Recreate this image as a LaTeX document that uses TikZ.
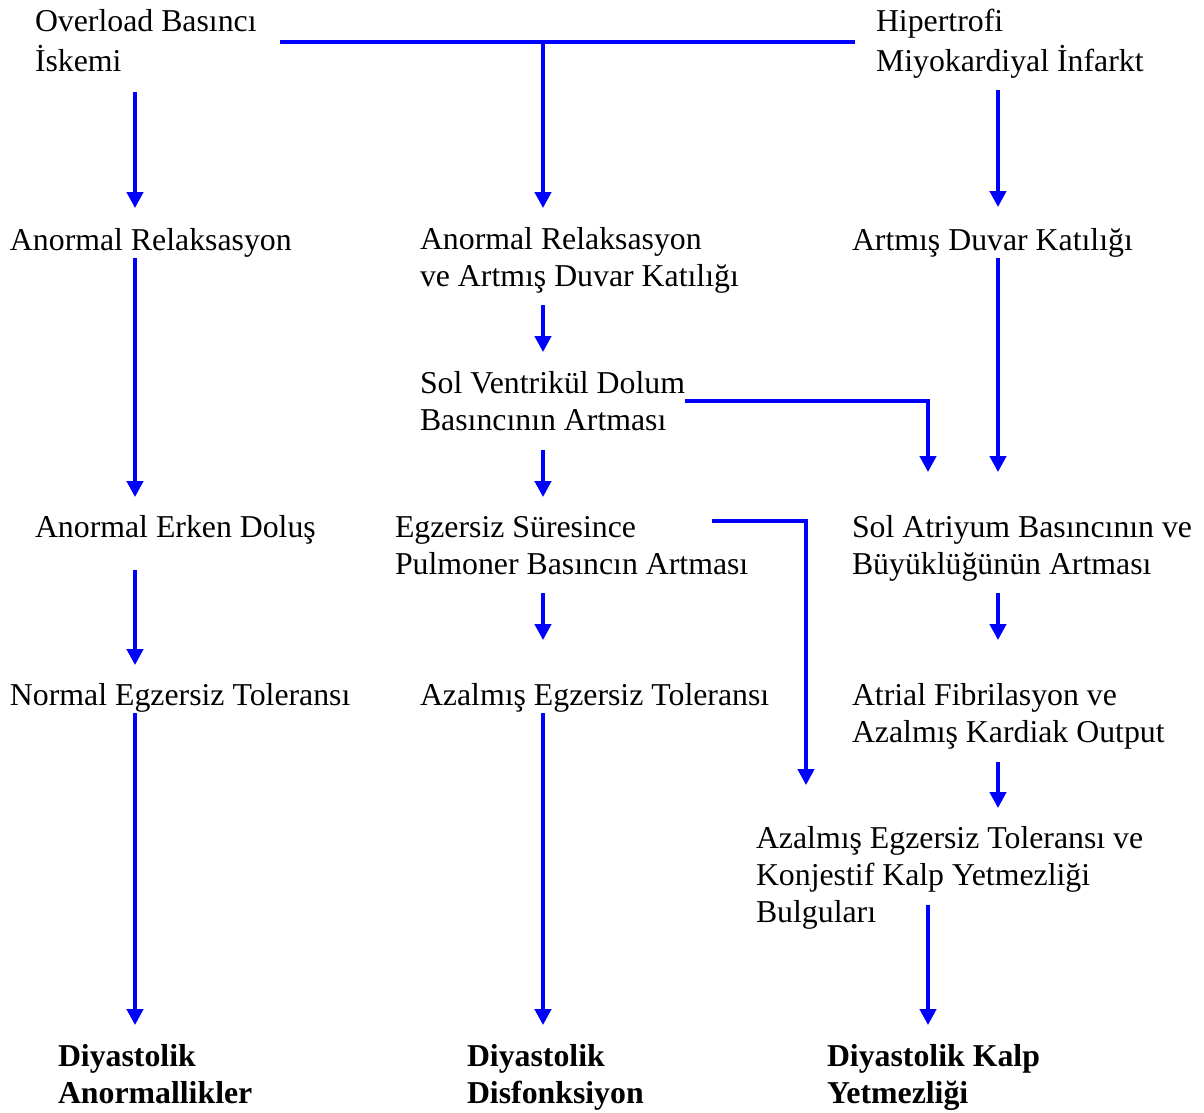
\documentclass[tikz,border=0pt]{standalone}
\usepackage{fontspec}
\setmainfont{Liberation Serif}
\usetikzlibrary{arrows.meta,calc}
\newcommand\sts{\rule[-5.55pt]{0pt}{18.5pt}}
\begin{document}
\begin{tikzpicture}[x=0.5pt,y=-0.5pt,
  txt/.style={anchor=north west,inner sep=0pt,outer sep=0pt,align=left,
    font=\fontsize{15.9}{18.5}\selectfont},
  btxt/.style={txt,font=\fontsize{15.9}{18.5}\selectfont\bfseries},
  ln/.style={draw=blue,line width=2pt},
  arr/.style={ln,-{Triangle[width=8pt,length=8pt]}}]
\useasboundingbox (0,0) rectangle (1204,1113);
% columns
\coordinate (k1) at (135,0);
\coordinate (k2) at (543,0);
\coordinate (k3) at (998,0);
\coordinate (k5) at (928,0);
\coordinate (k6) at (806,0);
% nodes
\node[txt] (ovl) at (35,6.1) {\sts Overload Basıncı\\İskemi\sts};
\node[txt] (hyp) at (876,6.1) {\sts Hipertrofi\\Miyokardiyal İnfarkt\sts};
\node[txt] (ar1) at (10,224.1) {\sts Anormal Relaksasyon};
\node[txt] (ar2) at (420,223.1) {\sts Anormal Relaksasyon\\ve Artmış Duvar Katılığı\sts};
\node[txt] (ar3) at (852,224.1) {\sts Artmış Duvar Katılığı};
\node[txt] (svd) at (420,367.1) {\sts Sol Ventrikül Dolum\\Basıncının Artması\sts};
\node[txt] (aed) at (35,511.1) {\sts Anormal Erken Doluş};
\node[txt] (egz) at (395,511.1) {\sts Egzersiz Süresince\\Pulmoner Basıncın Artması\sts};
\node[txt] (sat) at (852,511.1) {\sts Sol Atriyum Basıncının ve\\Büyüklüğünün Artması\sts};
\node[txt] (net) at (10,679.1) {\sts Normal Egzersiz Toleransı};
\node[txt] (aet) at (420,679.1) {\sts Azalmış Egzersiz Toleransı};
\node[txt] (afb) at (852,679.1) {\sts Atrial Fibrilasyon ve\\Azalmış Kardiak Output\sts};
\node[txt] (akk) at (756,822.1) {\sts Azalmış Egzersiz Toleransı ve\\Konjestif Kalp Yetmezliği\\Bulguları\sts};
\node[btxt] (d1) at (58,1040.1) {\sts Diyastolik\\Anormallikler\sts};
\node[btxt] (d2) at (467,1040.1) {\sts Diyastolik\\Disfonksiyon\sts};
\node[btxt] (d3) at (827,1040.1) {\sts Diyastolik Kalp\\Yetmezliği\sts};
% connectors
\draw[arr] ($(ovl.south -| k1)+(0,10)$) -- ($(ar1.north -| k1)+(0,-16)$);
\draw[ln] ($(ovl.east)+(23,-2)$) -- ($(hyp.west)+(-21,-2)$);
\coordinate (j) at ($(ovl.east -| k2)+(0,-2)$);
\draw[arr] (j) -- ($(ar2.north -| k2)+(0,-15)$);
\draw[arr] ($(hyp.south -| k3)+(0,8)$) -- ($(ar3.north -| k3)+(0,-17)$);
\draw[arr] ($(ar1.south -| k1)+(0,-3)$) -- ($(aed.north -| k1)+(0,-14)$);
\draw[arr] ($(ar2.south -| k2)+(0,8)$) -- ($(svd.north -| k2)+(0,-15)$);
\draw[arr] ($(ar3.south -| k3)+(0,-3)$) -- ($(sat.north -| k3)+(0,-39)$);
\draw[arr] ($(svd.north east)+(0,34)$) -| ($(sat.north -| k5)+(0,-39)$);
\draw[arr] ($(svd.south -| k2)+(0,9)$) -- ($(egz.north -| k2)+(0,-14)$);
\draw[arr] ($(egz.north east)+(-36,10)$) -| ($(akk.north -| k6)+(0,-37)$);
\draw[arr] ($(aed.south -| k1)+(0,22)$) -- ($(net.north -| k1)+(0,-14)$);
\draw[arr] ($(egz.south -| k2)+(0,8)$) -- ($(aet.north -| k2)+(0,-39)$);
\draw[arr] ($(sat.south -| k3)+(0,8)$) -- ($(afb.north -| k3)+(0,-39)$);
\draw[arr] ($(net.south -| k1)+(0,-3)$) -- ($(d1.north -| k1)+(0,-15)$);
\draw[arr] ($(aet.south -| k2)+(0,-3)$) -- ($(d2.north -| k2)+(0,-15)$);
\draw[arr] ($(afb.south -| k3)+(0,9)$) -- ($(akk.north -| k3)+(0,-14)$);
\draw[arr] ($(akk.south -| k5)+(0,-28)$) -- ($(d3.north -| k5)+(0,-15)$);
\end{tikzpicture}
\end{document}
